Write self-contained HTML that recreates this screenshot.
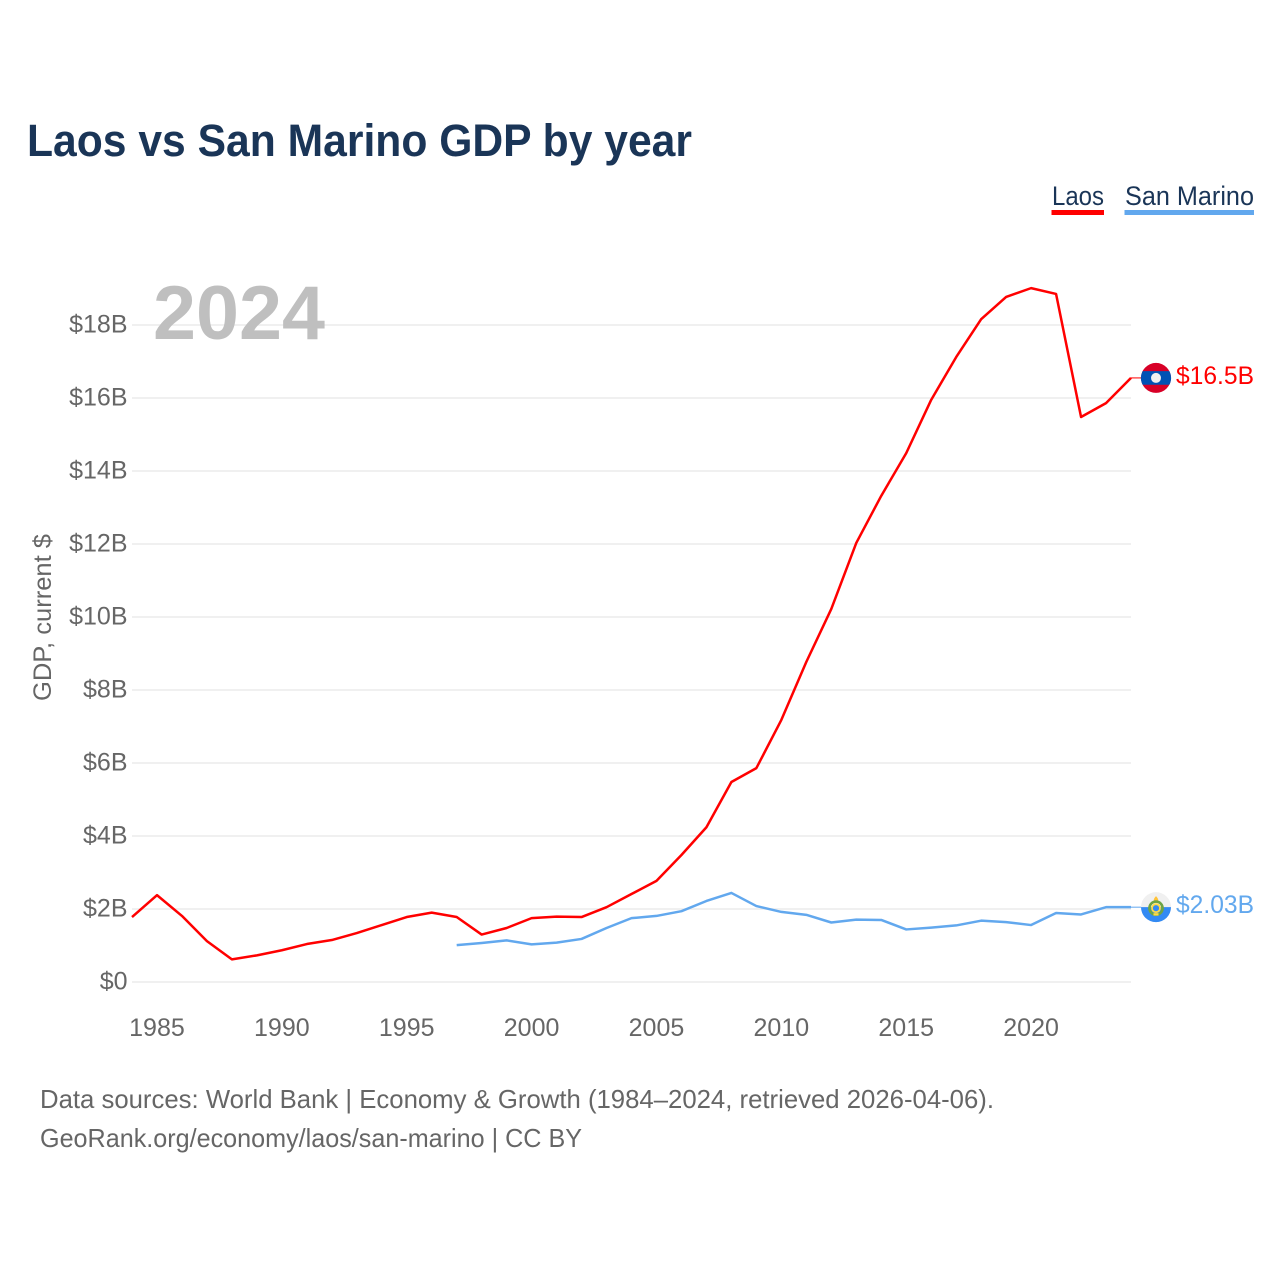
<!DOCTYPE html>
<html lang="en">
<head>
<meta charset="utf-8">
<title>Laos vs San Marino GDP by year</title>
<style>
html,body{margin:0;padding:0;background:#fff;}
svg{display:block;font-family:"Liberation Sans",sans-serif;}
</style>
</head>
<body>
<svg id="chart" width="1280" height="1280" viewBox="0 0 1280 1280" xmlns="http://www.w3.org/2000/svg">
  <rect x="0" y="0" width="1280" height="1280" fill="#ffffff"/>
  <text x="27" y="156" font-size="45" font-weight="700" fill="#1a3557" textLength="665" lengthAdjust="spacingAndGlyphs">Laos vs San Marino GDP by year</text>

  <g>
    <g>
      <text x="1052" y="205" font-size="27" fill="#1a3557" textLength="52" lengthAdjust="spacingAndGlyphs">Laos</text>
      <rect x="1051.5" y="210" width="52.5" height="5" fill="#ff0000"/>
    </g>
    <g>
      <text x="1125" y="205" font-size="27" fill="#1a3557" textLength="129" lengthAdjust="spacingAndGlyphs">San Marino</text>
      <rect x="1124.5" y="210" width="129.5" height="5" fill="#62a8ee"/>
    </g>
  </g>

  <g id="grid"></g>
  <g id="yticks"></g>
  <g id="xticks"></g>

  <text x="153" y="339" font-size="76" font-weight="700" fill="#bfbfbf" textLength="172" lengthAdjust="spacingAndGlyphs">2024</text>

  <text transform="translate(51,701) rotate(-90)" x="0" y="0" font-size="25" fill="#666666" textLength="167" lengthAdjust="spacingAndGlyphs">GDP, current $</text>

  <g id="series"></g>

  <g id="flag-laos">
    <circle cx="0" cy="0" r="15" fill="#d80027"/>
    <path d="M-13.4,-6.8 H13.4 A15,15 0 0 1 13.4,6.8 H-13.4 A15,15 0 0 1 -13.4,-6.8 Z" fill="#0052b4"/>
    <circle cx="0" cy="0" r="5" fill="#f0f0f0"/>
  </g>
  <g id="flag-san-marino">
    <circle cx="0" cy="0" r="15" fill="#f0f0f0"/>
    <path d="M-15,0 H15 A15,15 0 0 1 -15,0 Z" fill="#338af3"/>
    <path d="M0,-11 C3,-8 3,-5.5 0,-4 C-3,-5.5 -3,-8 0,-11 Z" fill="#ffc33a"/>
    <circle cx="0" cy="1" r="6.6" fill="none" stroke="#6da544" stroke-width="2.6"/>
    <circle cx="0" cy="1" r="4" fill="#338af3" stroke="#ffda44" stroke-width="1.8"/>
    <rect x="-2.5" y="6" width="5" height="2.4" fill="#ffda44"/>
  </g>

  <g id="end-labels"></g>

  <text x="40" y="1108" font-size="26" fill="#666666" textLength="954" lengthAdjust="spacingAndGlyphs">Data sources: World Bank | Economy &amp; Growth (1984–2024, retrieved 2026-04-06).</text>
  <text x="40" y="1147" font-size="26" fill="#666666" textLength="542" lengthAdjust="spacingAndGlyphs">GeoRank.org/economy/laos/san-marino | CC BY</text>
</svg>
<script>
const laosYears = [1984,1985,1986,1987,1988,1989,1990,1991,1992,1993,1994,1995,1996,1997,1998,1999,2000,2001,2002,2003,2004,2005,2006,2007,2008,2009,2010,2011,2012,2013,2014,2015,2016,2017,2018,2019,2020,2021,2022,2023,2024];
const laosValues = [1.78,2.38,1.81,1.12,0.62,0.73,0.87,1.04,1.15,1.34,1.56,1.78,1.90,1.78,1.30,1.48,1.75,1.79,1.78,2.05,2.41,2.77,3.48,4.24,5.48,5.86,7.18,8.77,10.22,12.03,13.32,14.49,15.95,17.12,18.16,18.77,19.01,18.85,15.48,15.86,16.55];
const sanMarinoYears = [1997,1998,1999,2000,2001,2002,2003,2004,2005,2006,2007,2008,2009,2010,2011,2012,2013,2014,2015,2016,2017,2018,2019,2020,2021,2022,2023,2024];
const sanMarinoValues = [1.01,1.07,1.14,1.03,1.08,1.18,1.48,1.75,1.81,1.94,2.22,2.44,2.08,1.92,1.84,1.63,1.71,1.70,1.44,1.49,1.55,1.68,1.64,1.56,1.89,1.85,2.05,2.05];
const yTickValues = [0,2,4,6,8,10,12,14,16,18];
const yTickLabels = ["$0","$2B","$4B","$6B","$8B","$10B","$12B","$14B","$16B","$18B"];
const xTickValues = [1985,1990,1995,2000,2005,2010,2015,2020];
const xTickLabels = ["1985","1990","1995","2000","2005","2010","2015","2020"];
const endLabels = ["$16.5B","$2.03B"];

const NS = "http://www.w3.org/2000/svg";
const xPos = function (year) { return 132 + (year - 1984) * 24.975; };
const yPos = function (value) { return 982 - value * 36.5; };

function make(tag, attrs, parent) {
  const el = document.createElementNS(NS, tag);
  Object.keys(attrs).forEach(function (k) { el.setAttribute(k, attrs[k]); });
  parent.appendChild(el);
  return el;
}

const grid = document.getElementById("grid");
const yticks = document.getElementById("yticks");
const xticks = document.getElementById("xticks");
const series = document.getElementById("series");
const endGroup = document.getElementById("end-labels");

yTickValues.forEach(function (v, i) {
  const line = make("line", {x1: 132, x2: 1131, y1: yPos(v), y2: yPos(v), stroke: "#ececec", "stroke-width": 1.6}, grid);
  
  
  const label = make("text", {x: 127.5, y: yPos(v) + 7.5, "text-anchor": "end", "font-size": 25, fill: "#666666"}, yticks);
  
  
  label.textContent = yTickLabels[i];
});

xTickValues.forEach(function (v, i) {
  const label = make("text", {x: xPos(v), y: 1036, "text-anchor": "middle", "font-size": 25, fill: "#666666"}, xticks);
  
  
  label.textContent = xTickLabels[i];
});

function pointsFor(years, values) {
  return years.map(function (y, i) { return xPos(y).toFixed(2) + "," + yPos(values[i]).toFixed(2); }).join(" ");
}

const smLine = make("polyline", {points: pointsFor(sanMarinoYears, sanMarinoValues), fill: "none", stroke: "#62a8ee", "stroke-width": 2.5, "stroke-linejoin": "round"}, series);



const laosLine = make("polyline", {points: pointsFor(laosYears, laosValues), fill: "none", stroke: "#ff0000", "stroke-width": 2.5, "stroke-linejoin": "round"}, series);



const laosEndY = yPos(laosValues[laosValues.length - 1]);
const smEndY = yPos(sanMarinoValues[sanMarinoValues.length - 1]);

const laosConnector = make("line", {x1: xPos(2024), x2: 1141, y1: laosEndY, y2: laosEndY, stroke: "#ff0000", "stroke-width": 1}, series);



const smConnector = make("line", {x1: xPos(2024), x2: 1141, y1: smEndY, y2: smEndY, stroke: "#62a8ee", "stroke-width": 1}, series);



document.getElementById("flag-laos").setAttribute("transform", "translate(1156," + laosEndY + ")");
document.getElementById("flag-san-marino").setAttribute("transform", "translate(1156," + smEndY + ")");

const laosEnd = make("text", {x: 1176, y: laosEndY + 6, "font-size": 25, fill: "#ff0000", textLength: 78, lengthAdjust: "spacingAndGlyphs"}, endGroup);


laosEnd.textContent = endLabels[0];

const smEnd = make("text", {x: 1176, y: smEndY + 6, "font-size": 25, fill: "#62a8ee", textLength: 78, lengthAdjust: "spacingAndGlyphs"}, endGroup);


smEnd.textContent = endLabels[1];
</script>
</body>
</html>
